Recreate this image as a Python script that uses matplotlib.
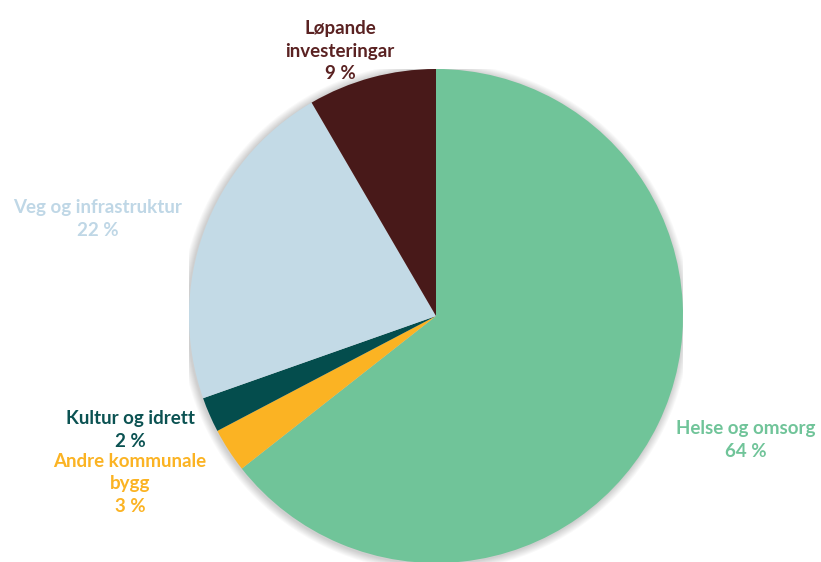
import matplotlib
matplotlib.use("Agg")
import matplotlib.pyplot as plt
from matplotlib.patches import Circle

labels = ["Helse og omsorg", "Andre kommunale\nbygg", "Kultur og idrett", "Veg og infrastruktur", "Løpande\ninvesteringar"]
pct_labels = ["64 %", "3 %", "2 %", "22 %", "9 %"]
values = [64.4, 2.9, 2.3, 22.0, 8.4]
colors = ["#70C499", "#FBB323", "#044D4D", "#C3DAE6", "#481919"]
text_colors = ["#70C499", "#FBB323", "#0B5252", "#BFD7E6", "#5A2222"]
# label anchor positions in pixels (x, y from top)
label_pos = [(746, 440), (130, 484), (130, 430), (98, 219), (340, 51)]

W, H = 821, 562
fig = plt.figure(figsize=(W / 100, H / 100), dpi=100)
cx, cy, r = 436, 316, 247
ax = fig.add_axes([(cx - r) / W, (H - cy - r) / H, 2 * r / W, 2 * r / H])
ax.set_xlim(-1, 1)
ax.set_ylim(-1, 1)
ax.set_aspect("equal")
ax.axis("off")

# soft shadow
for i in range(8):
    ax.add_patch(Circle((-0.004, -0.004), 1.0 + 0.004 * (i + 1), color="#000000",
                        alpha=0.025, lw=0, zorder=0))

ax.pie(values, colors=colors, startangle=90, counterclock=False, radius=1,
       wedgeprops=dict(linewidth=0), center=(0, 0), frame=False)
ax.set_xlim(-1, 1)
ax.set_ylim(-1, 1)

for lab, pct, tc, (px, py) in zip(labels, pct_labels, text_colors, label_pos):
    fig.text(px / W, 1 - py / H, lab + "\n" + pct, color=tc, fontsize=13.5,
             fontweight="bold", family=["Lato", "DejaVu Sans"], ha="center",
             va="center", linespacing=1.4, multialignment="center")

fig.savefig("out.png", dpi=100)
